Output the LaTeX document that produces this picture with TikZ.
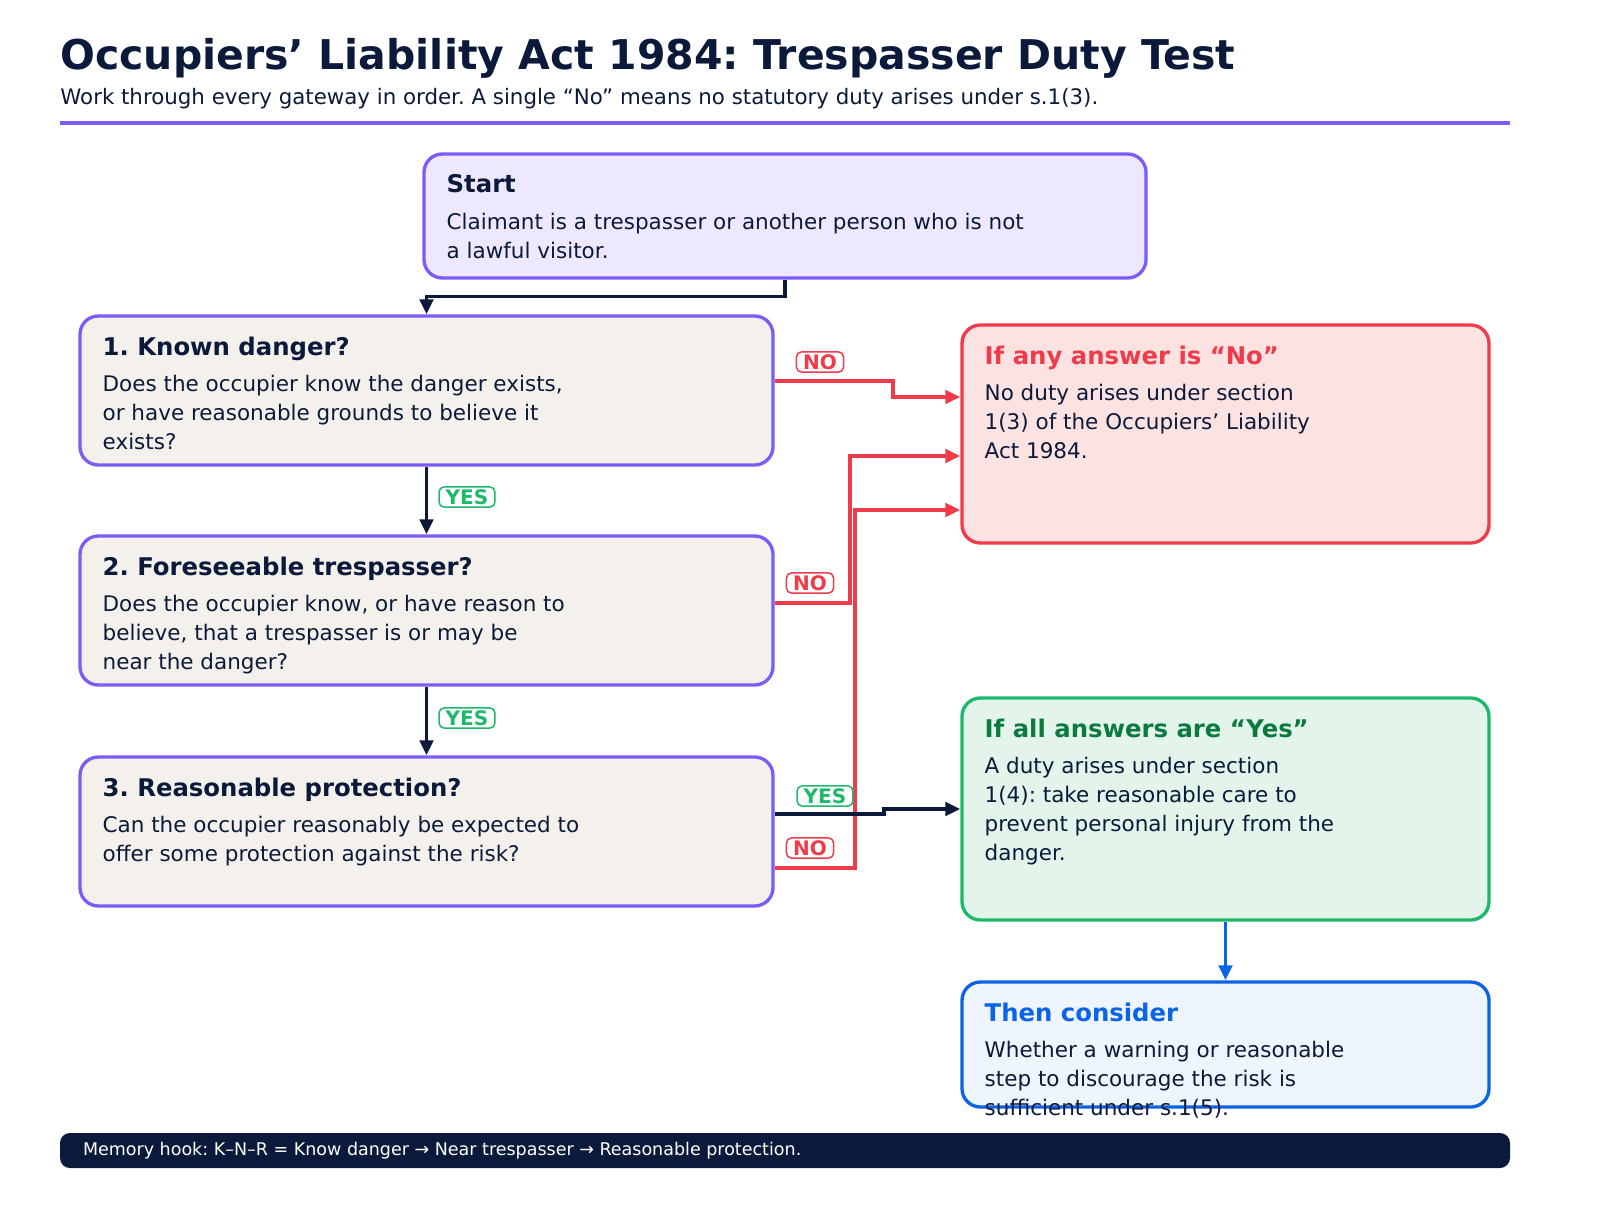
\documentclass[tikz,border=0pt]{standalone}
\usepackage{fontspec}
\setmainfont{DejaVu Sans}
\usetikzlibrary{arrows.meta, calc, positioning}
\definecolor{inkNavy}{HTML}{0B1A3A}
\definecolor{gatePurple}{HTML}{7B5CF5}
\definecolor{startFill}{HTML}{EEE8FF}
\definecolor{gateFill}{HTML}{F4F1EC}
\definecolor{noRed}{HTML}{EF3B4A}
\definecolor{noFill}{HTML}{FDE2E2}
\definecolor{yesGreen}{HTML}{1DB96A}
\definecolor{yesDark}{HTML}{0A7A3E}
\definecolor{yesFill}{HTML}{E3F5EA}
\definecolor{thenBlue}{HTML}{0B63E5}
\definecolor{thenFill}{HTML}{EEF5FF}

\begin{document}
\frenchspacing
\begin{tikzpicture}[
        x=0.6pt, y=-0.6pt,
        box/.style={draw, line width=2pt, rounded corners=11pt, minimum width=415.8pt, minimum height=89.4pt},
        gate/.style={box, draw=gatePurple, fill=gateFill},
        side/.style={box, minimum width=316.2pt},
        head/.style={anchor=north west, inner sep=0, font=\bfseries\fontsize{14.6}{17}\selectfont},
        body/.style={anchor=north west, inner sep=0, align=left, text=inkNavy, font=\fontsize{12.9}{17.4}\selectfont},
        tag/.style={draw, fill=white, rounded corners=3pt, line width=0.9pt, inner xsep=4pt, inner ysep=1.5pt, font=\bfseries\fontsize{12}{13}\selectfont},
        link/.style={line width=2.2pt, -{Triangle[length=9pt, width=8pt]}}
    ]
    \useasboundingbox (0,0) rectangle (1600,1220);

    % heading
    \node[anchor=base west, inner sep=0, text=inkNavy, font=\bfseries\fontsize{24.6}{28}\selectfont] (title) at (60,70) {Occupiers’ Liability Act 1984: Trespasser Duty Test};
    \node[anchor=base west, inner sep=0, text=inkNavy, font=\fontsize{12.8}{14}\selectfont] (subtitle) at (60,105) {Work through every gateway in order. A single “No” means no statutory duty arises under s.1(3).};
    \draw[gatePurple, line width=2pt] (60,123) -- (1510,123);

    % boxes
    \node[box, draw=gatePurple, fill=startFill, minimum width=433.2pt, minimum height=74.4pt] (start) at (785,216) {};
    \node[gate] (known) at (426.5,390.5) {};
    \node[gate] (foresee) at (426.5,610.5) {};
    \node[gate] (protect) at (426.5,831.5) {};
    \node[side, draw=noRed, fill=noFill, minimum height=130.8pt] (nobox) at (1225.5,434) {};
    \node[side, draw=yesGreen, fill=yesFill, minimum height=133.2pt] (yesbox) at (1225.5,809) {};
    \node[side, draw=thenBlue, fill=thenFill, minimum height=75pt] (thenbox) at (1225.5,1044.5) {};

    % box texts
    \node[head, text=inkNavy] at ($(start.north west)+(24,22)$) {Start};
    \node[body] at ($(start.north west)+(24,60)$) {Claimant is a trespasser or another person who is not\\a lawful visitor.};
    \node[head, text=inkNavy] at ($(known.north west)+(24,22)$) {1. Known danger?};
    \node[body] at ($(known.north west)+(24,60)$) {Does the occupier know the danger exists,\\or have reasonable grounds to believe it\\exists?};
    \node[head, text=inkNavy] at ($(foresee.north west)+(24,22)$) {2. Foreseeable trespasser?};
    \node[body] at ($(foresee.north west)+(24,60)$) {Does the occupier know, or have reason to\\believe, that a trespasser is or may be\\near the danger?};
    \node[head, text=inkNavy] at ($(protect.north west)+(24,22)$) {3. Reasonable protection?};
    \node[body] at ($(protect.north west)+(24,60)$) {Can the occupier reasonably be expected to\\offer some protection against the risk?};
    \node[head, text=noRed] at ($(nobox.north west)+(24,22)$) {If any answer is “No”};
    \node[body] at ($(nobox.north west)+(24,60)$) {No duty arises under section\\1(3) of the Occupiers’ Liability\\Act 1984.};
    \node[head, text=yesDark] at ($(yesbox.north west)+(24,22)$) {If all answers are “Yes”};
    \node[body] at ($(yesbox.north west)+(24,60)$) {A duty arises under section\\1(4): take reasonable care to\\prevent personal injury from the\\danger.};
    \node[head, text=thenBlue] at ($(thenbox.north west)+(24,22)$) {Then consider};
    \node[body] at ($(thenbox.north west)+(24,60)$) {Whether a warning or reasonable\\step to discourage the risk is\\sufficient under s.1(5).};

    % connectors
    \draw[link, inkNavy] (start.south) -- ++(0,17) -| (known.north);
    \draw[link, inkNavy] (known.south) -- (foresee.north);
    \draw[link, inkNavy] (foresee.south) -- (protect.north);
    \draw[link, noRed] ($(known.east)+(0,-9.5)$) -- ++(118,0) |- ($(nobox.west)+(0,-37)$);
    \draw[link, noRed] ($(foresee.east)+(0,-7.5)$) -- ++(75,0) |- ($(nobox.west)+(0,22)$);
    \draw[link, noRed] ($(protect.east)+(0,36.5)$) -- ++(80,0) |- ($(nobox.west)+(0,76)$);
    \draw[link, inkNavy] ($(protect.east)+(0,-17.5)$) -- ++(109,0) |- (yesbox.west);
    \draw[link, thenBlue] (yesbox.south) -- (thenbox.north);

    % answer tags
    \node[tag, draw=noRed, text=noRed] (no1) at (820,362) {NO};
    \node[tag, draw=noRed, text=noRed] (no2) at (810,583) {NO};
    \node[tag, draw=noRed, text=noRed] (no3) at (810,848) {NO};
    \node[tag, draw=yesGreen, text=yesGreen] (yes1) at (467,497) {YES};
    \node[tag, draw=yesGreen, text=yesGreen] (yes2) at (467,718) {YES};
    \node[tag, draw=yesGreen, text=yesGreen] (yes3) at (825,796) {YES};

    % footer
    \node[fill=inkNavy, rounded corners=6pt, minimum width=870pt, minimum height=21pt, inner sep=0] (footer) at (785,1150.5) {};
    \node[anchor=west, inner sep=0, text=white, font=\fontsize{10.5}{12}\selectfont] at ($(footer.west)+(23,0)$) {Memory hook: K–N–R = Know danger → Near trespasser → Reasonable protection.};
\end{tikzpicture}
\end{document}
